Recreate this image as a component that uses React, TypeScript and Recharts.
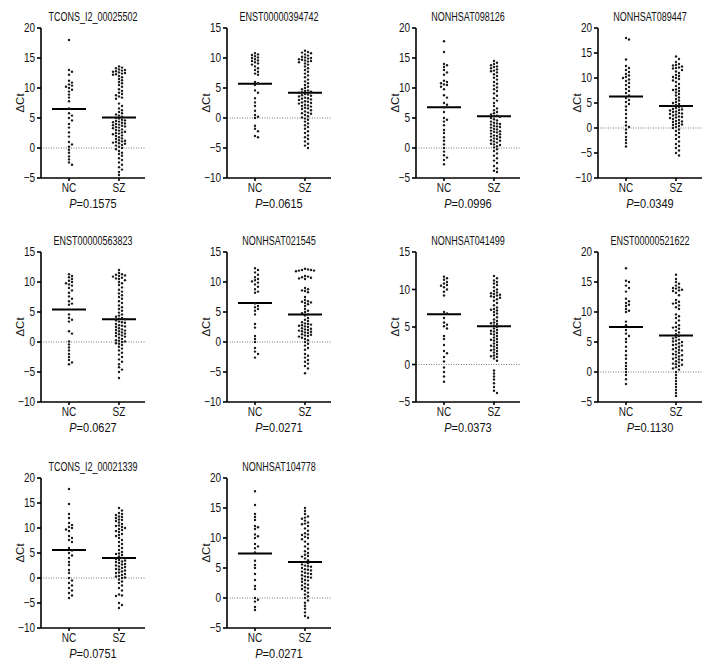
import React from 'react';
import { ScatterChart, Scatter, XAxis, YAxis, ReferenceLine } from 'recharts';

const titles = [
  'TCONS_I2_00025502', 'ENST00000394742', 'NONHSAT098126', 'NONHSAT089447',
  'ENST00000563823', 'NONHSAT021545', 'NONHSAT041499', 'ENST00000521622',
  'TCONS_I2_00021339', 'NONHSAT104778',
];
const pValues = ['0.1575', '0.0615', '0.0996', '0.0349', '0.0627', '0.0271', '0.0373', '0.1130', '0.0751', '0.0271'];
const yMins = [-5, -10, -5, -10, -10, -10, -5, -5, -10, -5];
const yMaxs = [20, 15, 20, 20, 15, 15, 15, 20, 20, 20];
const ncMeans = [6.5, 5.7, 6.8, 6.3, 5.4, 6.5, 6.7, 7.5, 5.6, 7.4];
const szMeans = [5.1, 4.2, 5.3, 4.4, 3.8, 4.6, 5.1, 6.1, 4.0, 6.0];
const groups = ['NC', 'SZ'];

const nc1 = [18, 13, 12.7, 12.2, 11.2, 10.9, 10.6, 10.4, 10.2, 10, 9.7, 9.4, 8.9, 8.4, 7.8, 6.6, 5.8, 5.4, 5, 4.6, 4, 3.4, 2.6, 1.9, 1, 0.6, 0.2, -0.3, -0.8, -1.4, -1.9, -2.4, -2.8];
const sz1 = [13.6, 13.4, 13.3, 13.1, 13.0, 12.9, 12.8, 12.7, 12.6, 12.5, 12.4, 12.3, 12.2, 12.0, 11.8, 11.5, 11.3, 11.0, 10.8, 10.5, 10.2, 9.8, 9.5, 9.2, 9.0, 8.8, 8.6, 8.4, 8.2, 7.4, 7.0, 6.6, 6.3, 6.0, 5.8, 5.6, 5.4, 5.2, 5.0, 4.9, 4.7, 4.6, 4.5, 4.4, 4.3, 4.2, 4.1, 4.0, 3.9, 3.8, 3.7, 3.6, 3.5, 3.4, 3.3, 3.1, 3.0, 2.9, 2.7, 2.6, 2.5, 2.4, 2.3, 2.1, 2.0, 1.8, 1.6, 1.5, 1.3, 1.2, 1.1, 1.0, 0.9, 0.8, 0.7, 0.5, 0.4, 0.2, 0.0, -0.2, -0.5, -0.8, -1.0, -1.3, -1.7, -2.0, -2.4, -2.8, -3.2, -3.6, -4.0, -4.5];

const nc2 = [10.8, 10.6, 10.5, 10.3, 10.1, 10.0, 9.8, 9.6, 9.5, 9.3, 9.1, 8.9, 8.6, 8.3, 8.0, 7.7, 7.4, 7.2, 6.0, 5.8, 5.5, 4.6, 4.2, 3.3, 2.6, 2.0, 1.2, 0.5, 0.2, 0.0, -1.3, -1.8, -2.2, -3.0, -3.2];
const sz2 = [11.2, 11.0, 10.9, 10.8, 10.6, 10.4, 10.2, 10.1, 10.0, 9.9, 9.8, 9.7, 9.6, 9.5, 9.4, 9.3, 9.1, 8.9, 8.6, 8.3, 8.0, 7.7, 7.4, 7.1, 6.8, 6.4, 6.1, 5.8, 5.5, 5.2, 5.0, 4.8, 4.6, 4.5, 4.4, 4.3, 4.2, 4.0, 3.9, 3.8, 3.7, 3.6, 3.4, 3.3, 3.2, 3.1, 3.0, 2.8, 2.7, 2.6, 2.5, 2.4, 2.2, 2.1, 2.0, 1.9, 1.7, 1.6, 1.5, 1.3, 1.1, 0.9, 0.8, 0.7, 0.5, 0.3, 0.1, -0.1, -0.3, -0.6, -0.9, -1.2, -1.5, -1.8, -2.2, -2.5, -2.9, -3.2, -3.5, -3.9, -4.3, -4.6, -5.0];

const nc3 = [17.8, 16.0, 14.0, 13.8, 13.5, 13.0, 12.6, 12.2, 11.2, 11.0, 10.8, 10.6, 10.5, 10.2, 9.8, 8.8, 8.4, 7.5, 7.2, 6.8, 6.0, 5.0, 4.7, 4.4, 3.8, 3.0, 2.5, 1.8, 1.2, 0.6, 0.0, -0.6, -1.2, -1.6, -2.0, -2.7];
const sz3 = [14.5, 14.2, 14.0, 13.8, 13.6, 13.5, 13.3, 13.1, 12.9, 12.8, 12.6, 12.3, 12.0, 11.7, 11.4, 11.0, 10.7, 10.4, 10.1, 9.8, 9.5, 9.1, 8.7, 8.3, 7.9, 7.5, 7.0, 6.6, 6.3, 6.0, 5.8, 5.6, 5.4, 5.3, 5.2, 5.0, 4.8, 4.6, 4.4, 4.2, 4.1, 4.0, 3.9, 3.7, 3.6, 3.5, 3.4, 3.2, 3.1, 2.9, 2.8, 2.7, 2.6, 2.4, 2.3, 2.1, 2.0, 1.9, 1.8, 1.6, 1.5, 1.3, 1.2, 1.1, 0.9, 0.7, 0.6, 0.5, 0.3, 0.1, -0.2, -0.5, -0.9, -1.3, -1.7, -2.1, -2.5, -3.0, -3.4, -3.8, -4.0];

const nc4 = [18.0, 17.7, 13.7, 12.4, 12.0, 11.6, 11.2, 10.8, 10.5, 10.2, 10.0, 9.7, 9.4, 9.0, 8.6, 8.2, 7.8, 7.4, 7.0, 6.5, 6.0, 5.6, 5.2, 4.8, 4.3, 3.6, 2.8, 2.0, 1.2, 0.5, 0.2, -0.3, -1.0, -1.8, -2.4, -3.0, -3.7];
const sz4 = [14.3, 13.8, 13.2, 12.8, 12.6, 12.5, 12.3, 12.1, 12.0, 11.9, 11.6, 11.3, 11.0, 10.6, 10.4, 10.2, 10.0, 9.8, 9.5, 9.2, 8.8, 8.4, 8.0, 7.7, 7.6, 7.4, 7.1, 6.8, 6.5, 6.1, 5.8, 5.5, 5.2, 5.0, 4.8, 4.6, 4.4, 4.3, 4.2, 4.0, 3.8, 3.7, 3.6, 3.5, 3.3, 3.2, 3.0, 2.9, 2.8, 2.7, 2.5, 2.3, 2.2, 2.1, 2.0, 1.8, 1.6, 1.4, 1.3, 1.2, 1.0, 0.8, 0.7, 0.6, 0.4, 0.2, 0.0, -0.3, -0.6, -1.0, -1.4, -1.8, -2.2, -2.7, -3.2, -3.6, -4.0, -4.5, -5.0, -5.5];

const nc5 = [11.3, 11.0, 10.8, 10.5, 10.2, 10.0, 9.8, 9.6, 9.4, 9.0, 8.6, 8.2, 7.6, 7.2, 6.8, 6.4, 6.2, 4.6, 4.0, 3.7, 3.4, 1.8, 1.4, 0.1, -0.4, -0.9, -1.4, -2.0, -2.5, -3.0, -3.4, -3.7];
const sz5 = [12.0, 11.5, 11.3, 11.2, 11.1, 11.0, 10.9, 10.7, 10.6, 10.5, 10.3, 10.0, 9.8, 9.5, 9.1, 8.7, 8.4, 8.1, 7.8, 7.5, 7.2, 6.8, 6.5, 6.1, 5.8, 5.5, 5.2, 4.9, 4.6, 4.4, 4.2, 4.0, 3.9, 3.8, 3.6, 3.4, 3.3, 3.2, 3.0, 2.8, 2.7, 2.6, 2.5, 2.3, 2.1, 2.0, 1.9, 1.8, 1.6, 1.5, 1.4, 1.3, 1.1, 1.0, 0.9, 0.7, 0.5, 0.3, 0.2, 0.1, 0.0, -0.2, -0.3, -0.5, -0.8, -1.1, -1.4, -1.8, -2.1, -2.5, -2.9, -3.3, -3.7, -4.2, -4.6, -5.0, -6.0];

const nc6 = [12.3, 12.0, 11.6, 11.2, 10.8, 10.5, 10.3, 10.1, 9.9, 9.6, 9.2, 8.8, 8.4, 8.2, 6.4, 6.0, 5.8, 5.5, 5.2, 4.6, 3.0, 2.4, 1.0, 0.5, 0.0, -1.0, -1.6, -2.0, -2.6];
const sz6 = [12.2, 12.1, 12.0, 12.0, 11.9, 11.9, 11.8, 11.0, 10.9, 10.8, 10.7, 10.6, 10.5, 9.0, 8.8, 8.6, 8.5, 8.3, 7.5, 7.0, 6.8, 6.7, 6.6, 6.5, 6.3, 6.0, 5.5, 5.2, 5.0, 4.8, 4.6, 4.4, 4.0, 3.7, 3.5, 3.3, 3.1, 3.0, 2.9, 2.8, 2.7, 2.6, 2.5, 2.3, 2.2, 2.1, 2.0, 1.9, 1.8, 1.7, 1.6, 1.5, 1.3, 1.2, 1.1, 1.0, 0.9, 0.7, 0.5, 0.3, 0.0, -0.3, -0.6, -1.0, -1.3, -2.0, -2.3, -2.6, -3.0, -3.3, -3.6, -4.0, -4.4, -5.2];

const nc7 = [11.7, 11.5, 11.3, 11.0, 10.8, 10.6, 10.5, 10.3, 10.0, 9.7, 9.2, 7.0, 6.8, 6.2, 5.6, 5.3, 5.1, 4.8, 3.8, 3.4, 2.6, 1.8, 1.5, 1.0, 0.4, -0.4, -1.0, -1.6, -2.3];
const sz7 = [11.8, 11.5, 11.2, 11.0, 10.8, 10.6, 10.3, 10.0, 9.8, 9.6, 9.5, 9.4, 9.3, 9.2, 9.1, 9.0, 8.9, 8.7, 8.5, 8.2, 7.9, 7.6, 7.4, 7.3, 7.2, 7.0, 6.8, 6.6, 6.3, 6.0, 5.8, 5.6, 5.5, 5.4, 5.2, 5.0, 4.8, 4.6, 4.5, 4.4, 4.2, 4.1, 4.0, 3.8, 3.6, 3.4, 3.3, 3.2, 3.0, 2.8, 2.6, 2.5, 2.4, 2.2, 2.0, 1.9, 1.8, 1.6, 1.4, 1.2, 1.1, 1.0, 0.8, 0.5, -0.8, -1.2, -1.6, -2.0, -2.5, -3.0, -3.5, -3.8];

const nc8 = [17.3, 15.2, 15.0, 14.4, 14.0, 13.4, 12.2, 11.8, 11.5, 11.2, 11.0, 10.5, 10.2, 10.0, 8.4, 7.8, 7.0, 6.4, 6.0, 5.5, 5.0, 4.2, 3.5, 2.8, 2.2, 1.5, 1.0, 0.5, 0.0, -0.5, -1.2, -2.0];
const sz8 = [16.2, 15.5, 15.0, 14.7, 14.4, 14.1, 14.0, 13.9, 13.7, 13.6, 13.5, 13.2, 12.8, 12.0, 11.7, 11.5, 11.4, 11.1, 10.8, 10.5, 9.6, 9.3, 9.0, 8.6, 8.2, 7.8, 7.5, 7.4, 7.2, 6.9, 6.6, 6.3, 6.0, 5.8, 5.6, 5.4, 5.2, 5.1, 5.0, 4.8, 4.6, 4.5, 4.4, 4.2, 4.0, 3.8, 3.7, 3.6, 3.4, 3.2, 3.0, 2.9, 2.8, 2.6, 2.4, 2.2, 2.1, 2.0, 1.8, 1.6, 1.4, 1.3, 1.2, 1.0, 0.8, 0.6, 0.4, 0.0, -0.5, -1.0, -1.5, -2.0, -2.5, -3.0, -3.5, -4.0];

const nc9 = [17.8, 14.8, 12.8, 12.0, 11.0, 10.6, 10.2, 10.0, 9.7, 9.4, 8.4, 8.0, 7.6, 7.2, 6.0, 5.5, 5.0, 4.5, 4.0, 3.2, 2.6, 1.6, 1.0, 0.0, -0.5, -1.0, -1.5, -2.0, -2.5, -3.0, -3.5, -4.0];
const sz9 = [14.0, 13.5, 13.0, 12.8, 12.6, 12.3, 12.2, 12.0, 11.7, 11.6, 11.4, 11.1, 10.8, 10.5, 10.4, 10.2, 10.0, 9.8, 9.6, 9.4, 9.2, 8.8, 8.6, 8.4, 8.0, 7.6, 7.2, 6.8, 6.4, 6.0, 5.6, 5.2, 4.9, 4.8, 4.6, 4.3, 4.0, 3.8, 3.6, 3.5, 3.3, 3.2, 3.0, 2.8, 2.7, 2.5, 2.3, 2.2, 2.0, 1.8, 1.7, 1.5, 1.3, 1.1, 1.0, 0.8, 0.6, 0.4, 0.3, 0.1, 0.0, -0.3, -0.7, -1.0, -1.5, -2.0, -2.5, -3.3, -3.5, -3.6, -5.0, -5.4, -6.0];

const nc10 = [17.8, 15.5, 14.0, 13.5, 13.0, 12.0, 11.8, 11.5, 10.6, 10.3, 10.0, 9.0, 8.6, 8.3, 7.6, 6.2, 5.5, 5.0, 4.0, 3.0, 2.0, 1.5, 0.0, -0.3, -0.6, -1.5, -2.0];
const sz10 = [15.0, 14.5, 14.0, 13.6, 13.4, 13.2, 12.9, 12.6, 12.4, 12.3, 12.0, 11.6, 11.2, 10.8, 10.6, 10.5, 10.2, 10.0, 9.8, 9.4, 9.0, 8.6, 8.2, 7.8, 7.5, 7.2, 7.0, 6.9, 6.6, 6.3, 6.0, 5.8, 5.6, 5.4, 5.3, 5.2, 5.0, 4.8, 4.7, 4.6, 4.4, 4.2, 4.1, 4.0, 3.8, 3.6, 3.5, 3.4, 3.2, 3.0, 2.9, 2.7, 2.4, 2.2, 2.1, 1.8, 1.6, 1.5, 1.2, 0.9, 0.6, 0.3, 0.0, -0.4, -0.8, -1.3, -1.8, -2.4, -3.0, -3.3];

const ncData = [nc1, nc2, nc3, nc4, nc5, nc6, nc7, nc8, nc9, nc10];
const szData = [sz1, sz2, sz3, sz4, sz5, sz6, sz7, sz8, sz9, sz10];

const colX = [41, 227, 416, 598]; // y-axis x position for each column
const rowY = [28, 252, 478]; // plot top for each row
const PLOT_W = 104;
const PLOT_H = 150;
const X_DOMAIN: [number, number] = [0.44, 2.52];
const PX_PER_X = PLOT_W / (X_DOMAIN[1] - X_DOMAIN[0]);
const FONT = "'Liberation Sans', Arial, sans-serif";
const SQUEEZE = 0.8; // the original uses a condensed face

// spread points sideways so they don't overlap (column scatter style)
function swarm(values: number[], center: number, pxPerY: number) {
  const D = 3;
  const placed: { px: number; py: number }[] = [];
  const out: { x: number; y: number }[] = [];
  const sorted = [...values].sort((a, b) => b - a);
  for (const v of sorted) {
    const py = v * pxPerY;
    let k = 0;
    for (let n = 0; n < 40; n++) {
      const off = n === 0 ? 0 : (n % 2 === 1 ? 1 : -1) * Math.ceil(n / 2) * D;
      const hit = placed.some(p => (p.px - off) ** 2 + (p.py - py) ** 2 < D * D * 0.95);
      if (!hit) { k = off; break; }
    }
    placed.push({ px: k, py });
    out.push({ x: center + k / PX_PER_X, y: v });
  }
  return out;
}

const fmt = (v: number) => (v < 0 ? '\u2212' + Math.abs(v) : String(v));

const YTick = (props: any) => {
  const { x, y, payload } = props;
  return (
    <text x={x} y={y} dy="0.36em" textAnchor="end" fontSize={12.5} fill="#111" fontFamily={FONT}
      transform={`translate(${x} 0) scale(${SQUEEZE} 1) translate(${-x} 0)`}>
      {fmt(payload.value)}
    </text>
  );
};

const XTick = (props: any) => {
  const { x, y, payload } = props;
  return (
    <text x={x} y={y} dy="0.75em" textAnchor="middle" fontSize={12.5} fill="#111" fontFamily={FONT}
      transform={`translate(${x} 0) scale(${SQUEEZE} 1) translate(${-x} 0)`}>
      {groups[payload.value - 1]}
    </text>
  );
};

const Dot = (props: any) => <circle cx={props.cx} cy={props.cy} r={1.2} fill="#1a1a1a" />;

const Panel = ({ i }: { i: number }) => {
  const lo = yMins[i];
  const hi = yMaxs[i];
  const pxPerY = PLOT_H / (hi - lo);
  const ticks: number[] = [];
  for (let t = lo; t <= hi; t += 5) ticks.push(t);
  const ncPts = swarm(ncData[i], 1, pxPerY);
  const szPts = swarm(szData[i], 2, pxPerY);
  const left = colX[i % 4] - 41;
  const top = rowY[Math.floor(i / 4)] - 28;
  return (
    <div style={{ position: 'absolute', left, top, width: 186, height: 220 }}>
      <div style={{ position: 'absolute', left: 21, width: 144, top: 11, textAlign: 'center', fontSize: 12, lineHeight: '13px', color: '#111', whiteSpace: 'nowrap', transform: 'scaleX(0.75)' }}>
        {titles[i]}
      </div>
      <ScatterChart width={186} height={220} margin={{ top: 28, right: 41, bottom: 22, left: 0 }}>
        <XAxis
          type="number"
          dataKey="x"
          domain={X_DOMAIN}
          ticks={[1, 2]}
          interval={0}
          allowDataOverflow
          height={20}
          tickSize={3}
          stroke="#000"
          strokeWidth={1.6}
          tick={<XTick />}
        />
        <YAxis
          type="number"
          dataKey="y"
          domain={[lo, hi]}
          ticks={ticks}
          interval={0}
          allowDataOverflow
          width={41}
          tickSize={4}
          stroke="#000"
          strokeWidth={1.6}
          tick={<YTick />}
          label={{ value: '\u0394Ct', angle: -90, position: 'center', dx: -1, fontSize: 11.5, fill: '#111', fontFamily: FONT }}
        />
        <ReferenceLine y={0} stroke="#777" strokeWidth={1} strokeDasharray="1 1.5" />
        <Scatter data={ncPts} shape={Dot} isAnimationActive={false} />
        <Scatter data={szPts} shape={Dot} isAnimationActive={false} />
        <ReferenceLine segment={[{ x: 0.66, y: ncMeans[i] }, { x: 1.34, y: ncMeans[i] }]} stroke="#000" strokeWidth={2} />
        <ReferenceLine segment={[{ x: 1.66, y: szMeans[i] }, { x: 2.34, y: szMeans[i] }]} stroke="#000" strokeWidth={2} />
      </ScatterChart>
      <div style={{ position: 'absolute', left: 21, width: 144, top: 197, textAlign: 'center', fontSize: 12.5, lineHeight: '14px', color: '#111', whiteSpace: 'nowrap', transform: 'scaleX(0.88)' }}>
        <i>P</i>={pValues[i]}
      </div>
    </div>
  );
};

export default function App() {
  return (
    <div style={{ position: 'absolute', left: 0, top: 0, width: 720, height: 672, background: '#fff', fontFamily: FONT }}>
      {titles.map((_, i) => <Panel key={i} i={i} />)}
    </div>
  );
}
